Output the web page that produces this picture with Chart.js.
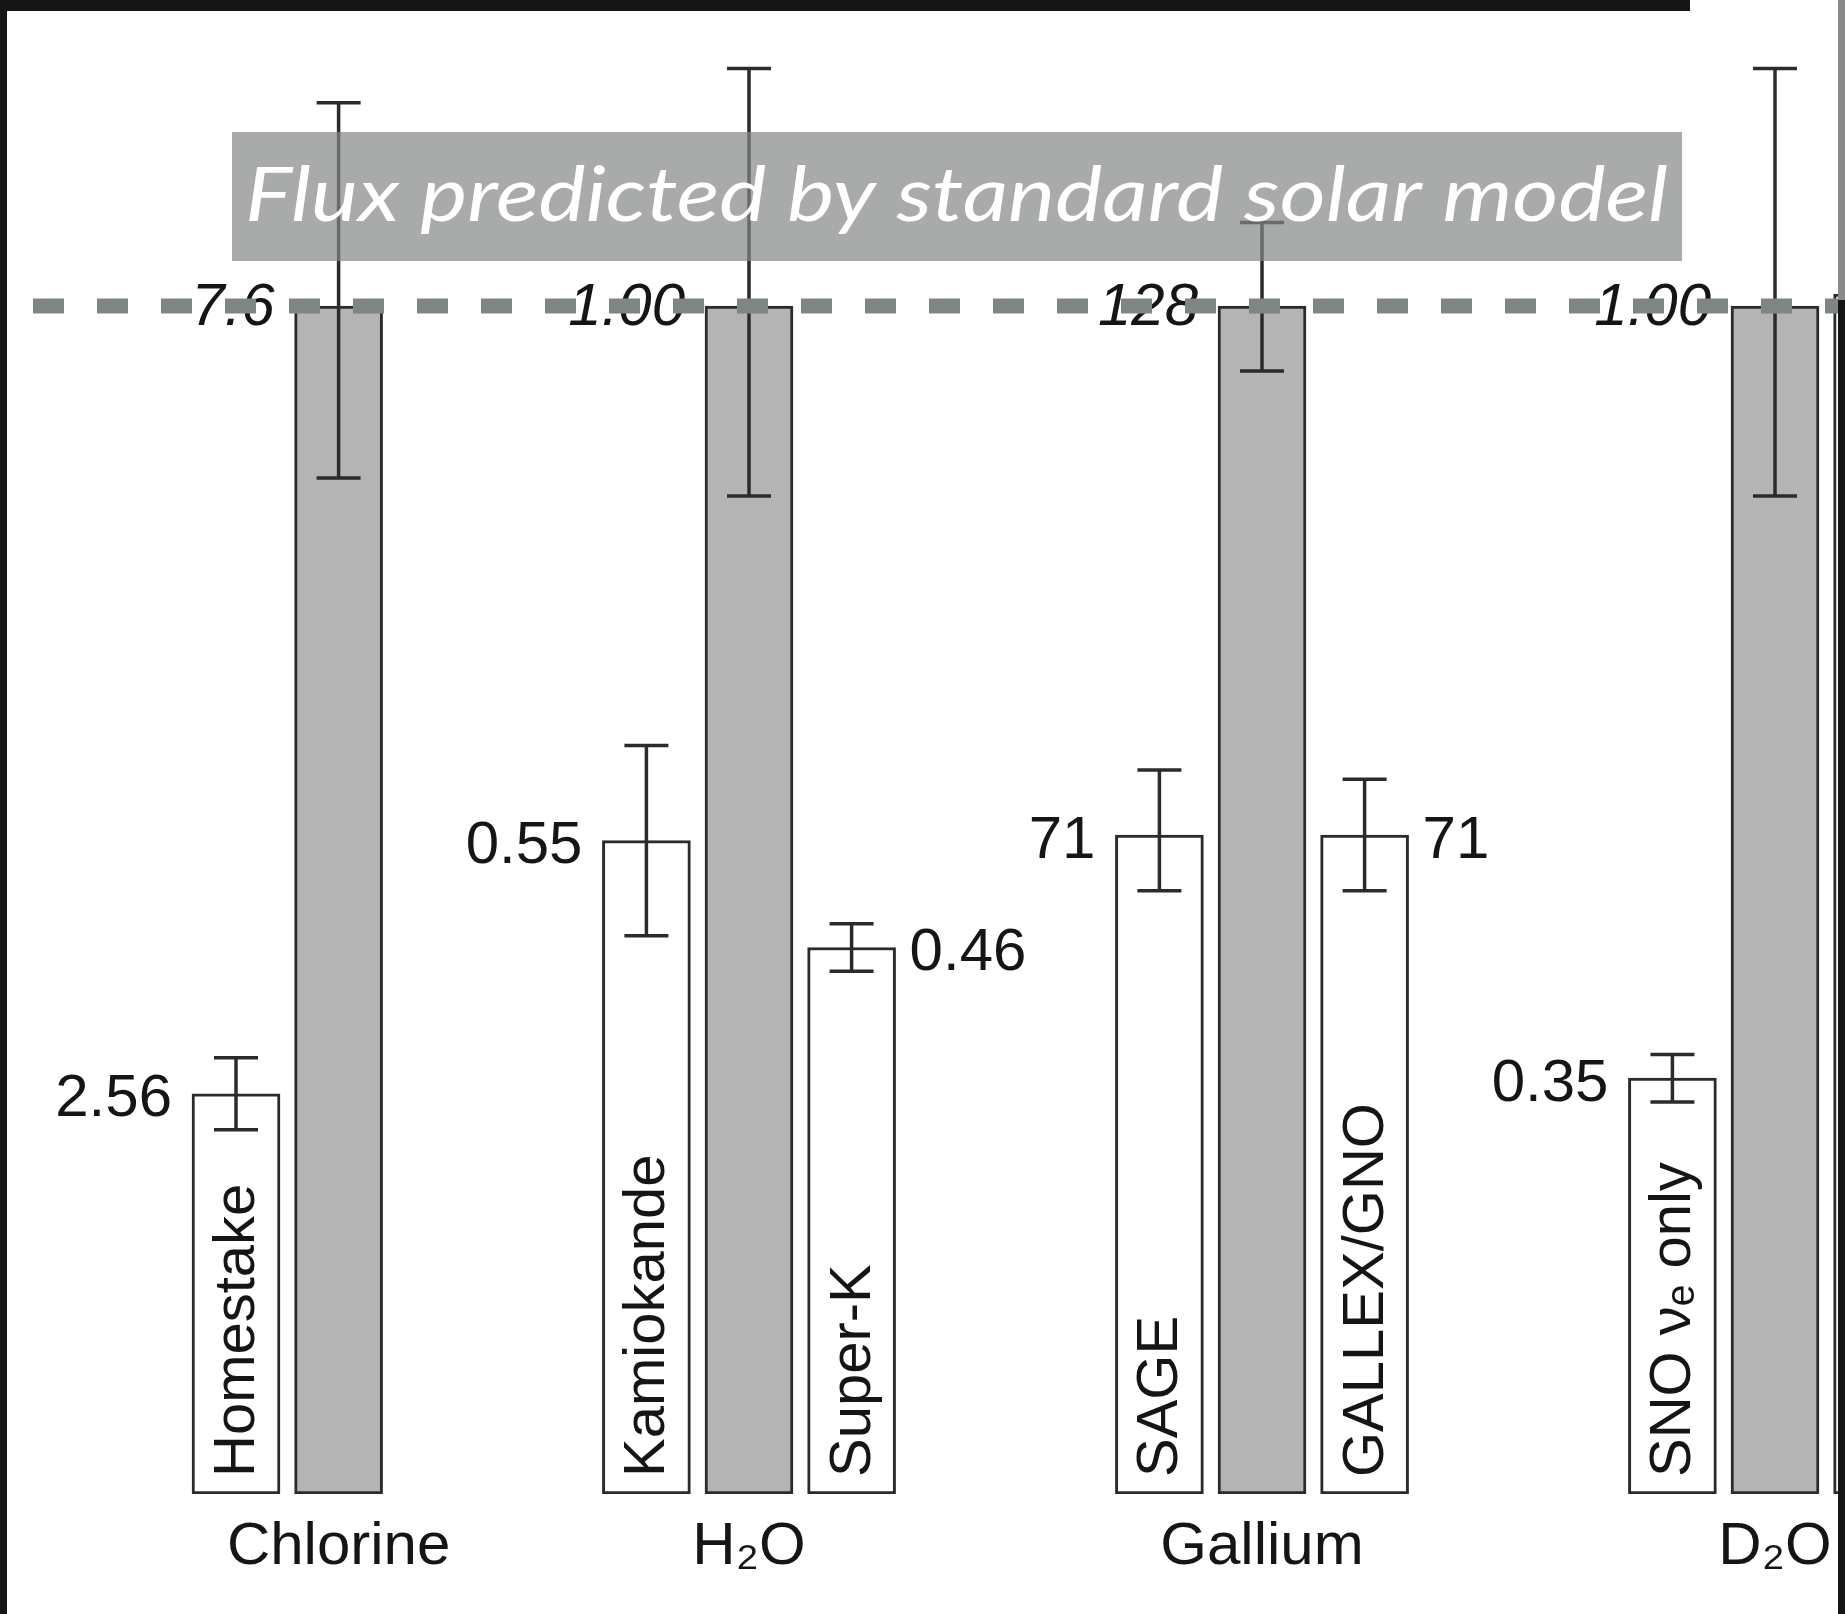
<!DOCTYPE html>
<html>
<head>
<meta charset="utf-8">
<script src="https://cdn.jsdelivr.net/npm/chart.js@4"></script>
<style>
  html, body { margin: 0; padding: 0; background: #fff; overflow: hidden; }
  canvas { display: block; }
</style>
</head>
<body>
<canvas id="fluxChart" width="1845" height="1614"></canvas>
<script>
// detector groups, the prediction bar sits under the group name
const groupNames = ['Chlorine', 'H\u2082O', 'Gallium', 'D\u2082O'];
const groupSlots = [1, 5, 10, 15];
const predicted = [7.6, 1.00, 128, 1.00];
const predictedText = ['7.6', '1.00', '128', '1.00'];
const predictedErrUp = [1.3, 0.20, 9, 0.20];
const predictedErrDown = [1.1, 0.16, 7, 0.16];

// experiments (last one is cut off by the right edge of the photo)
const expNames = ['Homestake', 'Kamiokande', 'Super-K', 'SAGE', 'GALLEX/GNO', 'SNO \u03bd\u2091 only', ''];
const expGroup = [0, 1, 1, 2, 2, 3, 3];
const expSlots = [0, 4, 6, 9, 11, 14, 16];
const measured = [2.56, 0.55, 0.46, 71, 71, 0.35, 1.01];
const measuredText = ['2.56', '0.55', '0.46', '71', '71', '0.35', ''];
const measuredErrUp = [0.23, 0.08, 0.02, 7, 6, 0.02, 0];
const measuredErrDown = [0.23, 0.08, 0.02, 6, 6, 0.02, 0];
const labelSide = ['left', 'left', 'right', 'left', 'right', 'left', 'right'];

const titleText = 'Flux predicted by standard solar model';

const BAR_W = 88;
const INK = '#2b2b2b';

const overlayPlugin = {
  id: 'overlay',
  beforeDraw(chart) {
    const c = chart.ctx;
    c.save();
    c.fillStyle = '#ffffff';
    c.fillRect(0, 0, chart.width, chart.height);
    c.restore();
  },
  afterDatasetsDraw(chart) {
    const c = chart.ctx;
    const xs = chart.scales.x, ys = chart.scales.y;

    function errorBar(slot, lo, hi) {
      const px = xs.getPixelForValue(slot);
      const top = ys.getPixelForValue(hi), bot = ys.getPixelForValue(lo);
      c.beginPath();
      c.moveTo(px, top); c.lineTo(px, bot);
      c.moveTo(px - 22, top); c.lineTo(px + 22, top);
      c.moveTo(px - 22, bot); c.lineTo(px + 22, bot);
      c.stroke();
    }

    function valueLabel(slot, ratio, text, side, italic) {
      const px = xs.getPixelForValue(slot);
      const py = ys.getPixelForValue(ratio) + (italic ? 2 : 6);
      c.font = (italic ? 'italic ' : '') + '60px "Liberation Sans", Arial, sans-serif';
      c.textBaseline = 'middle';
      if (side === 'left') {
        c.textAlign = 'right';
        c.fillText(text, px - BAR_W / 2 - 20, py);
      } else {
        c.textAlign = 'left';
        c.fillText(text, px + BAR_W / 2 + 14, py);
      }
    }

    c.save();
    c.strokeStyle = INK;
    c.lineWidth = 3.5;
    c.fillStyle = '#151515';

    // predicted bars
    groupSlots.forEach((s, i) => {
      const p = predicted[i];
      errorBar(s, (p - predictedErrDown[i]) / p, (p + predictedErrUp[i]) / p);
      valueLabel(s, 1, predictedText[i], 'left', true);
    });

    // measured bars
    expSlots.forEach((s, i) => {
      const p = predicted[expGroup[i]];
      if (measuredErrUp[i] > 0) {
        errorBar(s, (measured[i] - measuredErrDown[i]) / p, (measured[i] + measuredErrUp[i]) / p);
      }
      if (measuredText[i]) valueLabel(s, measured[i] / p, measuredText[i], labelSide[i], false);

      // experiment name written up the inside of the bar
      if (expNames[i]) {
        const px = xs.getPixelForValue(s);
        c.save();
        c.translate(px + 2, ys.getPixelForValue(0) - 17);
        c.rotate(-Math.PI / 2);
        c.font = '58px "Liberation Sans", Arial, sans-serif';
        c.textAlign = 'left';
        c.textBaseline = 'middle';
        c.fillText(expNames[i], 0, 0);
        c.restore();
      }
    });

    // dashed reference line at the predicted flux
    const yRef = ys.getPixelForValue(1);
    c.strokeStyle = '#7f8585';
    c.lineWidth = 15;
    c.setLineDash([31, 33]);
    c.lineDashOffset = 0;
    c.beginPath();
    c.moveTo(33, yRef);
    c.lineTo(chart.width, yRef);
    c.stroke();
    c.setLineDash([]);

    // title box laid over the chart
    c.fillStyle = 'rgba(132, 136, 136, 0.7)';
    c.fillRect(232, 132, 1450, 129);
    c.font = 'italic 400 76px Lato, "Open Sans", sans-serif';
    c.textAlign = 'left';
    c.textBaseline = 'alphabetic';
    const w = c.measureText(titleText).width;
    c.translate(245, 221);
    c.scale(1423 / w, 1);
    c.fillStyle = '#ffffff';
    c.fillText(titleText, 0, 0);
    c.restore();
  },
  afterDraw(chart) {
    // dark border of the photographed slide
    const c = chart.ctx;
    c.save();
    c.fillStyle = '#151515';
    c.fillRect(0, 0, 1690, 11);
    c.fillRect(0, 0, 7, chart.height);
    c.fillRect(1838, 300, 7, chart.height - 300);
    c.fillStyle = '#8a8a8a';
    c.fillRect(1838, 0, 7, 300);
    c.restore();
  }
};

const ctx = document.getElementById('fluxChart').getContext('2d');
const fluxChart = new Chart(ctx, {
  type: 'bar',
  data: {
    datasets: [
      {
        label: 'Measured',
        data: expSlots.map((s, i) => ({ x: s, y: measured[i] / predicted[expGroup[i]] })),
        backgroundColor: '#ffffff',
        borderColor: INK,
        borderWidth: 3,
        borderSkipped: false,
        grouped: false,
        barThickness: BAR_W
      },
      {
        label: 'Predicted',
        // every prediction is normalised to 1
        data: groupSlots.map((s, i) => ({ x: s, y: predicted[i] / predicted[i] })),
        backgroundColor: '#b4b4b4',
        borderColor: INK,
        borderWidth: 3,
        borderSkipped: false,
        grouped: false,
        barThickness: BAR_W
      }
    ]
  },
  options: {
    responsive: false,
    animation: false,
    layout: { padding: { top: 11, left: 7, right: 7, bottom: 0 } },
    plugins: {
      legend: { display: false },
      tooltip: { enabled: false }
    },
    scales: {
      x: {
        type: 'linear',
        min: -2.232,
        max: 15.614,
        offset: false,
        grid: { display: false, drawTicks: false },
        border: { display: false },
        afterBuildTicks: scale => { scale.ticks = groupSlots.map(v => ({ value: v })); },
        afterFit: scale => {
          scale.height = 120;
          scale.paddingLeft = 0;
          scale.paddingRight = 0;
        },
        ticks: {
          padding: 17,
          maxRotation: 0,
          autoSkip: false,
          color: '#151515',
          font: { family: '"Liberation Sans", Arial, sans-serif', size: 60, lineHeight: 1.2 },
          callback: v => {
            const i = groupSlots.indexOf(v);
            return i < 0 ? '' : groupNames[i];
          }
        }
      },
      y: {
        display: false,
        min: 0,
        max: 1.2483
      }
    }
  },
  plugins: [overlayPlugin]
});
</script>
</body>
</html>
